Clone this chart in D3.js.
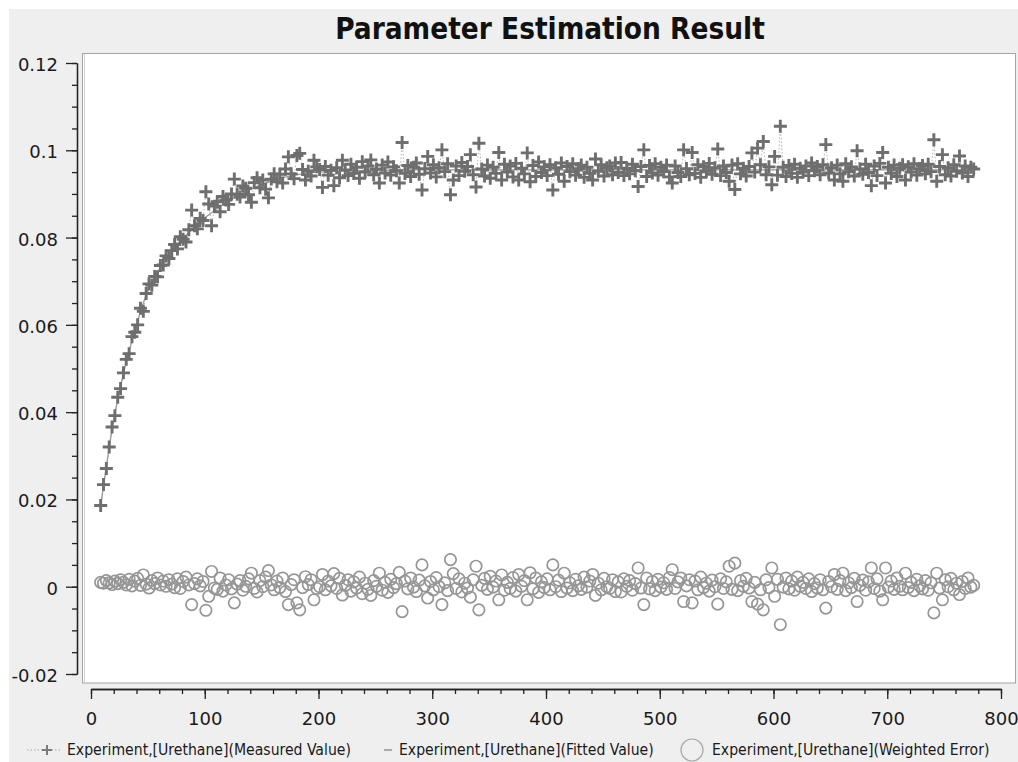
<!DOCTYPE html>
<html><head><meta charset="utf-8">
<script src="https://cdn.jsdelivr.net/npm/d3@7"></script>
<style>html,body{margin:0;padding:0;background:#fff;}svg{display:block;}</style>
</head><body>
<script>
// ---------- data ----------
const titleText = "Parameter Estimation Result";
const seriesNames = ["Experiment,[Urethane](Measured Value)", "Experiment,[Urethane](Fitted Value)", "Experiment,[Urethane](Weighted Error)"];
const xTickValues = [0,100,200,300,400,500,600,700,800];
const xTickLabels = ["0","100","200","300","400","500","600","700","800"];
const yTickValues = [-0.02,0,0.02,0.04,0.06,0.08,0.1,0.12];
const yTickLabels = ["-0.02","0","0.02","0.04","0.06","0.08","0.1","0.12"];

const times = [
8.5,11,13.5,16,18.5,21,23.5,26,28.5,31,33.5,36,38.5,41,43.5,46,48.5,51,53.5,56,
58.5,61,63.5,66,68.5,71,73.5,76,78.5,81,83.5,86,88.5,91,93.5,96,98.5,101,103.5,106,
108.5,111,113.5,116,118.5,121,123.5,126,128.5,131,133.5,136,138.5,141,143.5,146,148.5,151,153.5,156,
158.5,161,163.5,166,168.5,171,173.5,176,178.5,181,183.5,186,188.5,191,193.5,196,198.5,201,203.5,206,
208.5,211,213.5,216,218.5,221,223.5,226,228.5,231,233.5,236,238.5,241,243.5,246,248.5,251,253.5,256,
258.5,261,263.5,266,268.5,271,273.5,276,278.5,281,283.5,286,288.5,291,293.5,296,298.5,301,303.5,306,
308.5,311,313.5,316,318.5,321,323.5,326,328.5,331,333.5,336,338.5,341,343.5,346,348.5,351,353.5,356,
358.5,361,363.5,366,368.5,371,373.5,376,378.5,381,383.5,386,388.5,391,393.5,396,398.5,401,403.5,406,
408.5,411,413.5,416,418.5,421,423.5,426,428.5,431,433.5,436,438.5,441,443.5,446,448.5,451,453.5,456,
458.5,461,463.5,466,468.5,471,473.5,476,478.5,481,483.5,486,488.5,491,493.5,496,498.5,501,503.5,506,
508.5,511,513.5,516,518.5,521,523.5,526,528.5,531,533.5,536,538.5,541,543.5,546,548.5,551,553.5,556,
558.5,561,563.5,566,568.5,571,573.5,576,578.5,581,583.5,586,588.5,591,593.5,596,598.5,601,603.5,606,
608.5,611,613.5,616,618.5,621,623.5,626,628.5,631,633.5,636,638.5,641,643.5,646,648.5,651,653.5,656,
658.5,661,663.5,666,668.5,671,673.5,676,678.5,681,683.5,686,688.5,691,693.5,696,698.5,701,703.5,706,
708.5,711,713.5,716,718.5,721,723.5,726,728.5,731,733.5,736,738.5,741,743.5,746,748.5,751,753.5,756,
758.5,761,763.5,766,768.5,771,773.5,776];

const measured = [
.0186,.0234,.0271,.0320,.0366,.0392,.0434,.0454,.0490,.0521,.0534,.0573,.0583,.0600,.0638,.0631,.0672,.0694,.0691,.0711,
.0710,.0736,.0737,.0758,.0752,.0770,.0784,.0774,.0802,.0796,.0790,.0818,.0863,.0827,.0820,.0844,.0839,.0905,.0877,.0827,
.0872,.0882,.0859,.0894,.0886,.0876,.0900,.0934,.0899,.0893,.0918,.0913,.0898,.0881,.0926,.0937,.0914,.0932,.0911,.0891,
.0934,.0946,.0928,.0945,.0925,.0957,.0985,.0946,.0935,.0988,.0993,.0956,.0932,.0952,.0941,.0977,.0962,.0956,.0915,.0963,
.0943,.0954,.0919,.0960,.0937,.0977,.0955,.0942,.0968,.0947,.0961,.0936,.0974,.0950,.0964,.0978,.0944,.0957,.0925,.0966,
.0948,.0973,.0943,.0962,.0953,.0925,.1018,.0947,.0965,.0940,.0961,.0971,.0945,.0909,.0958,.0986,.0948,.0967,.0939,.0960,
.1001,.0951,.0969,.0898,.0932,.0964,.0942,.0972,.0952,.0963,.0990,.0944,.0916,.1016,.0957,.0941,.0966,.0936,.0961,.0947,
.0995,.0932,.0968,.0950,.0964,.0939,.0970,.0932,.0959,.0946,.0994,.0928,.0965,.0940,.0973,.0949,.0962,.0942,.0967,.0909,
.0960,.0945,.0971,.0929,.0963,.0951,.0969,.0943,.0958,.0966,.0938,.0961,.0947,.0932,.0980,.0952,.0967,.0941,.0960,.0964,
.0944,.0971,.0949,.0972,.0942,.0959,.0946,.0968,.0953,.0917,.0963,.1001,.0940,.0965,.0948,.0969,.0943,.0961,.0951,.0966,
.0939,.0925,.0964,.0949,.0940,.1001,.0958,.0944,.0995,.0947,.0967,.0938,.0962,.0952,.0970,.0945,.0960,.1003,.0942,.0964,
.0949,.0929,.0966,.0910,.0969,.0946,.0959,.0941,.0963,.0994,.0950,.1005,.0967,.1020,.0944,.0962,.0921,.0986,.0943,.1055,
.0961,.0940,.0965,.0947,.0968,.0938,.0959,.0950,.0964,.0942,.0971,.0953,.0963,.0944,.0967,.1013,.0948,.0960,.0932,.0966,
.0946,.0929,.0969,.0951,.0962,.0941,.0999,.0957,.0945,.0968,.0949,.0919,.0964,.0942,.0970,.0995,.0925,.0961,.0947,.0966,
.0940,.0959,.0967,.0932,.0962,.0950,.0969,.0943,.0958,.0965,.0946,.0968,.0951,.1024,.0929,.0963,.0990,.0944,.0960,.0941,
.0967,.0952,.0987,.0948,.0964,.0940,.0961,.0957];

const weightedError = [
.0010,.0008,.0014,.0009,.0005,.0013,.0007,.0016,.0010,.0004,.0017,.0002,.0013,.0019,.0003,.0027,.0006,-.0003,.0014,.0007,
.0020,.0004,.0013,.0001,.0016,.0006,-.0002,.0018,-.0004,.0012,.0022,.0004,-.0041,.0007,.0018,.0002,.0012,-.0054,-.0022,.0035,
-.0003,-.0006,.0020,-.0010,.0004,.0016,-.0005,-.0037,.0006,.0014,-.0008,.0001,.0018,.0031,-.0004,-.0012,.0014,.0000,.0022,.0037,
.0004,-.0007,.0013,-.0002,.0020,-.0011,-.0041,.0005,.0016,-.0037,-.0053,-.0002,.0023,.0005,.0016,-.0030,-.0004,.0000,.0028,-.0007,
.0013,.0002,.0030,-.0004,.0019,-.0019,.0003,.0016,-.0010,.0011,-.0003,.0022,-.0016,.0008,-.0006,-.0020,.0014,.0001,.0031,-.0008,
.0010,-.0013,.0017,-.0002,.0007,.0033,-.0057,.0013,-.0005,.0020,-.0001,-.0011,.0015,.0050,.0002,-.0026,.0012,-.0007,.0021,.0000,
-.0041,.0009,-.0009,.0062,.0030,-.0004,.0018,-.0012,.0008,-.0003,-.0024,.0016,.0047,-.0053,.0003,.0019,-.0006,.0024,-.0001,.0013,
-.0030,.0027,-.0008,.0010,-.0004,.0021,-.0010,.0028,.0001,.0014,-.0030,.0032,-.0005,.0020,-.0013,.0011,-.0002,.0018,-.0007,.0050,
.0000,.0015,-.0011,.0031,-.0003,.0009,-.0009,.0017,.0002,-.0006,.0022,-.0001,.0013,.0028,-.0020,.0008,-.0007,.0019,.0000,-.0004,
.0016,-.0011,.0011,-.0012,.0018,.0001,.0014,-.0008,.0007,.0043,-.0003,-.0041,.0020,-.0005,.0012,-.0009,.0017,-.0001,.0009,-.0006,
.0021,.0039,-.0004,.0011,.0020,-.0034,.0002,.0016,-.0037,.0013,-.0007,.0022,-.0002,.0008,-.0010,.0015,.0000,-.0040,.0018,-.0004,
.0011,.0047,-.0006,.0054,-.0009,.0014,.0001,.0019,-.0003,-.0034,.0010,-.0040,-.0007,-.0053,.0016,-.0002,.0043,-.0022,.0017,-.0087,
-.0001,.0020,-.0005,.0013,-.0008,.0022,.0001,.0010,-.0004,.0018,-.0011,.0007,-.0003,.0016,-.0007,-.0049,.0012,.0000,.0028,-.0006,
.0014,.0031,-.0009,.0009,-.0002,.0019,-.0034,.0003,.0015,-.0008,.0011,.0043,-.0004,.0018,-.0010,-.0030,.0043,-.0001,.0013,-.0006,
.0020,.0001,-.0007,.0031,-.0002,.0010,-.0009,.0017,.0002,-.0005,.0014,-.0008,.0009,-.0060,.0031,-.0003,-.0030,.0016,.0000,.0019,
-.0007,.0008,-.0018,.0012,-.0004,.0020,-.0001,.0003];

const fitTimes = [8.5,13.5,18.5,23.5,28.5,33.5,38.5,43.5,48.5,53.5,58.5,63.5,68.5,73.5,78.5,83.5,88.5,93.5,98.5,103.5,108.5,113.5,118.5,123.5,128.5,133.5,138.5,143.5,148.5,153.5,158.5,163.5,168.5,173.5,178.5,183.5,188.5,193.5,198.5,223.5,248.5,298.5,398.5,498.5,598.5,698.5,776];
const fitValues = [0.0186,0.0275,0.0360,0.0430,0.0488,0.0540,0.0585,0.0630,0.0668,0.0695,0.0720,0.0740,0.0758,0.0774,0.0790,0.0805,0.0818,0.0830,0.0842,0.0852,0.0862,0.0871,0.0880,0.0888,0.0895,0.0902,0.0908,0.0914,0.0920,0.0925,0.0929,0.0933,0.0937,0.0940,0.0943,0.0945,0.0947,0.0949,0.0950,0.0953,0.0954,0.0955,0.0955,0.0955,0.0955,0.0955,0.0955];

// ---------- drawing ----------
const W = 1018, H = 762;
const FONT = "'DejaVu Sans Condensed','DejaVu Sans',sans-serif";
const svg = d3.select("body").append("svg").attr("width", W).attr("height", H);

svg.append("rect").attr("x",0).attr("y",0).attr("width",W).attr("height",H).attr("fill","#fff");
svg.append("rect").attr("x",9).attr("y",9).attr("width",W-9).attr("height",H-9).attr("fill","#efefef");

const x = d3.scaleLinear().domain([0,800]).range([91,1001]);
const y = d3.scaleLinear().domain([-0.02,0.12]).range([674,63]);

// plot frame
svg.append("rect").attr("x",82.5).attr("y",53.5).attr("width",933).attr("height",629.5)
  .attr("fill","#fff").attr("stroke","#a4a4a4").attr("stroke-width",1);
svg.append("line").attr("x1",84.5).attr("x2",84.5).attr("y1",54).attr("y2",683)
  .attr("stroke","#d0d0d0").attr("stroke-width",1);

// title
const title = svg.append("text").attr("x",550).attr("y",39).attr("text-anchor","middle")
  .attr("font-family",FONT).attr("font-weight","bold").attr("font-size",28).attr("fill","#111").text(titleText);
(function(){const w=title.node().getComputedTextLength(); title.attr("font-size", 28*430/w);})();

// axes
function styleAxis(g){
  g.selectAll("path").attr("stroke","#222").attr("stroke-width",1.3);
  g.selectAll("line").attr("stroke","#222").attr("stroke-width",1.3);
  g.selectAll("text").attr("fill","#1a1a1a").attr("font-family","'DejaVu Sans',sans-serif").attr("font-size",18);
}
const yMinor = d3.range(-20,121,5).map(v=>v/1000);
const gyMinor = svg.append("g").attr("transform","translate(77,0)")
  .call(d3.axisLeft(y).tickValues(yMinor).tickSize(5).tickSizeOuter(0).tickFormat(""));
styleAxis(gyMinor);
const gy = svg.append("g").attr("transform","translate(77,0)")
  .call(d3.axisLeft(y).tickValues(yTickValues).tickSize(11).tickSizeOuter(0).tickPadding(8)
    .tickFormat((d,i)=>yTickLabels[i]));
styleAxis(gy);
gy.selectAll("text").attr("dy","7.5px");

const xMinor = d3.range(0,801,20);
const gxMinor = svg.append("g").attr("transform","translate(0,689)")
  .call(d3.axisBottom(x).tickValues(xMinor).tickSize(5).tickSizeOuter(0).tickFormat(""));
styleAxis(gxMinor);
const gx = svg.append("g").attr("transform","translate(0,689)")
  .call(d3.axisBottom(x).tickValues(xTickValues).tickSize(10).tickSizeOuter(0).tickPadding(13)
    .tickFormat((d,i)=>xTickLabels[i]));
styleAxis(gx);

// data
const pts = times.map((t,i)=>({t, m: measured[i], e: weightedError[i]}));
const fit = fitTimes.map((t,i)=>({t, v: fitValues[i]}));
const plot = svg.append("g");

// weighted error circles
plot.append("g").selectAll("circle").data(pts).join("circle")
  .attr("cx",d=>x(d.t)).attr("cy",d=>y(d.e)).attr("r",5.7)
  .attr("fill","none").attr("stroke","#969696").attr("stroke-width",1.7);

// measured dotted connecting line
plot.append("path").datum(pts)
  .attr("d", d3.line().x(d=>x(d.t)).y(d=>y(d.m)))
  .attr("fill","none").attr("stroke","#b4b4b4").attr("stroke-width",1).attr("stroke-dasharray","1.5,2");

// fitted line
plot.append("path").datum(fit)
  .attr("d", d3.line().x(d=>x(d.t)).y(d=>y(d.v)).curve(d3.curveMonotoneX))
  .attr("fill","none").attr("stroke","#9a9a9a").attr("stroke-width",1.3);

// measured crosses
plot.append("g").selectAll("path").data(pts).join("path")
  .attr("transform",d=>`translate(${x(d.t)},${y(d.m)})`)
  .attr("d","M-6.5,0H6.5M0,-6.5V6.5")
  .attr("stroke","#6e6e6e").attr("stroke-width",2.9).attr("fill","none");

// legend
const ly = 750;
const lg = svg.append("g");
lg.append("line").attr("x1",27).attr("x2",62).attr("y1",ly).attr("y2",ly)
  .attr("stroke","#aaa").attr("stroke-width",1).attr("stroke-dasharray","1.5,2");
lg.append("path").attr("transform",`translate(47,${ly})`).attr("d","M-5,0H5M0,-5V5")
  .attr("stroke","#7a7a7a").attr("stroke-width",2).attr("fill","none");
lg.append("line").attr("x1",384).attr("x2",392).attr("y1",ly).attr("y2",ly)
  .attr("stroke","#aaa").attr("stroke-width",2);
lg.append("circle").attr("cx",692).attr("cy",ly).attr("r",11)
  .attr("fill","none").attr("stroke","#a8a8a8").attr("stroke-width",1.2);

const legX = [67, 399, 712];
const legW = [283, 253, 281];
const legTexts = seriesNames.map((s,i)=> lg.append("text").attr("x",legX[i]).attr("y",ly+5)
  .attr("font-family",FONT).attr("font-size",14).attr("fill","#1a1a1a").text(s));
(function(){
  let tw=0, tt=0;
  legTexts.forEach((t,i)=>{tw+=t.node().getComputedTextLength(); tt+=legW[i];});
  const fs = 14*tt/tw;
  legTexts.forEach(t=>t.attr("font-size",fs));
})();
</script>
</body></html>
